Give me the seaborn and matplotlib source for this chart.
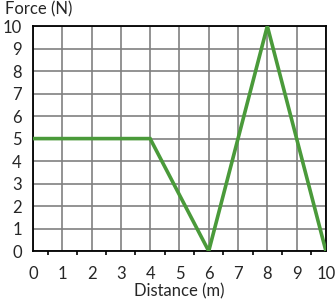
import matplotlib
matplotlib.use("Agg")
import matplotlib.pyplot as plt
import seaborn as sns
import pandas as pd
from matplotlib.ticker import MultipleLocator

distance = [0, 4, 6, 8, 10]
force = [5, 5, 0, 10, 0]
x_ticks = list(range(0, 11))
y_ticks = list(range(0, 11))

sns.set_style("white")
plt.rcParams['font.family'] = ['Lato', 'DejaVu Sans']

df = pd.DataFrame({"Distance (m)": distance, "Force (N)": force})

fig = plt.figure(figsize=(3.36, 3.0), dpi=100)
ax = fig.add_axes([0.098, 0.163, 0.872, 0.750])
sns.lineplot(data=df, x="Distance (m)", y="Force (N)", ax=ax, color="#4a9a3a",
             linewidth=2.6, solid_joinstyle="miter", zorder=3)
ax.set_xlim(0, 10)
ax.set_ylim(0, 10)
ax.set_xticks(x_ticks)
ax.set_yticks(y_ticks)
ax.xaxis.set_minor_locator(MultipleLocator(0.5))
ax.grid(True, which="major", color="#808080", linewidth=1.2, zorder=0)
ax.set_axisbelow(True)
for s in ax.spines.values():
    s.set_color("black")
    s.set_linewidth(1.3)
ax.tick_params(axis="x", which="major", direction="out", length=5, width=1.2,
               color="black", labelsize=12, pad=6)
ax.tick_params(axis="x", which="minor", direction="out", length=3, width=1.2,
               color="black", bottom=True)
ax.tick_params(axis="y", which="major", direction="inout", length=8, width=1.2,
               color="black", labelsize=12, pad=4)
ax.set_xlabel("Distance (m)", fontsize=12, labelpad=1)
ax.set_ylabel("")
fig.text(0.015, 0.97, "Force (N)", fontsize=12, ha="left", va="center")
fig.savefig("out.png", dpi=100)
